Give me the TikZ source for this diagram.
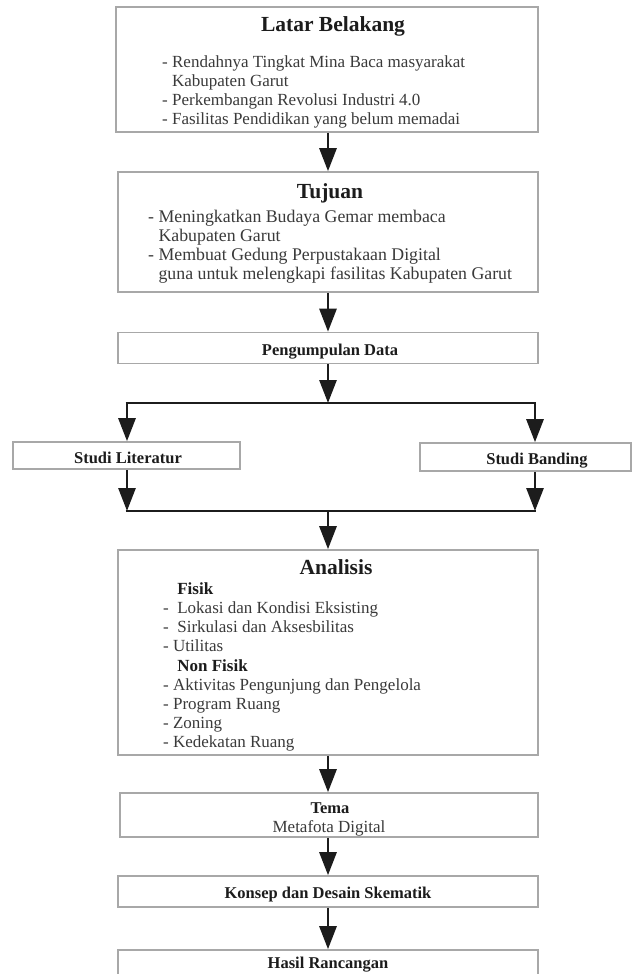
\documentclass[tikz,border=0pt]{standalone}
\usepackage{fontspec}
\setmainfont{Liberation Serif}
\usetikzlibrary{arrows.meta}
\definecolor{boxgray}{HTML}{A8A8A8}
\definecolor{ink}{HTML}{1C1C1C}
\definecolor{bodyink}{HTML}{3A3A3A}
\tikzset{
  box/.style={draw=boxgray, line width=1.6pt, fill=white, inner sep=0pt},
  arr/.style={draw=ink, line width=2.8pt, -{Triangle[length=23pt,width=17pt]}},
  link/.style={draw=ink, line width=2.8pt},
  ttl/.style={font=\fontsize{21.5}{24}\selectfont\bfseries, text=ink, inner sep=0pt, anchor=base},
  lbl/.style={font=\fontsize{16.5}{19}\selectfont\bfseries, text=ink, inner sep=0pt, anchor=base},
  sub/.style={font=\fontsize{17}{19}\selectfont, text=bodyink, inner sep=0pt, anchor=base},
  body/.style={font=\fontsize{17}{19.2}\selectfont, text=bodyink, inner sep=0pt, align=left, anchor=north west},
  bodywide/.style={body, font=\fontsize{17.8}{19}\selectfont},
}
\begin{document}
\begin{tikzpicture}[x=1pt, y=-1pt]
\useasboundingbox (0,0) rectangle (632,974);
\fill[white] (0,0) rectangle (632,974);

% boxes
\node[box, minimum width=422pt, minimum height=125pt] (lb) at (327,69.5) {};
\node[box, minimum width=420pt, minimum height=120pt] (tj) at (328,232) {};
\node[box, minimum width=420pt, minimum height=31pt] (pd) at (328,348) {};
\node[box, minimum width=227pt, minimum height=27pt] (sl) at (126.5,455.5) {};
\node[box, minimum width=211pt, minimum height=28pt] (sb) at (525.5,457) {};
\node[box, minimum width=420pt, minimum height=205pt] (an) at (328,652.5) {};
\node[box, minimum width=418pt, minimum height=44pt] (tm) at (329,815) {};
\node[box, minimum width=420pt, minimum height=31pt] (ks) at (328,891.5) {};
\node[box, minimum width=420pt, minimum height=40pt] (hr) at (328,970) {};

% texts
\node[ttl] (lbt) at (333,32) {Latar Belakang};
\node[body] (lbx) at (162,53.6) {\strut- Rendahnya Tingkat Mina Baca masyarakat\\
\phantom{- }Kabupaten Garut\\
- Perkembangan Revolusi Industri 4.0\\
- Fasilitas Pendidikan yang belum memadai};

\node[ttl] (tjt) at (330,198) {Tujuan};
\node[bodywide] (tjx) at (148,208.7) {\strut- Meningkatkan Budaya Gemar membaca\\
\phantom{- }Kabupaten Garut\\
- Membuat Gedung Perpustakaan Digital\\
\phantom{- }guna untuk melengkapi fasilitas Kabupaten Garut};

\node[lbl] (pdt) at (330,355) {Pengumpulan Data};
\node[lbl] (slt) at (128,463) {Studi Literatur};
\node[lbl] (sbt) at (537,464) {Studi Banding};

\node[ttl] (ant) at (336,574) {Analisis};
\node[body] (anx) at (163,580.6) {\strut\phantom{-\ \ }\textcolor{ink}{\textbf{Fisik}}\\
-\ \ Lokasi dan Kondisi Eksisting\\
-\ \ Sirkulasi dan Aksesbilitas\\
- Utilitas\\
\phantom{-\ \ }\textcolor{ink}{\textbf{Non Fisik}}\\
- Aktivitas Pengunjung dan Pengelola\\
- Program Ruang\\
- Zoning\\
- Kedekatan Ruang};

\node[lbl] (tmt) at (330,813) {Tema};
\node[sub] (tms) at (329,832) {Metafota Digital};
\node[lbl] (kst) at (328,898) {Konsep dan Desain Skematik};
\node[lbl] (hrt) at (328,968) {Hasil Rancangan};

% split / join points
\coordinate (splitM) at (328,403);
\coordinate (splitL) at (127,403);
\coordinate (splitR) at (535,403);
\coordinate (joinM) at (328,511);
\coordinate (joinL) at (127,511);
\coordinate (joinR) at (535,511);

% connectors
\draw[arr] (lb.south -| tj.north) -- (tj.north);
\draw[arr] (tj.south) -- (pd.north);
\draw[arr] (pd.south) -- (splitM);
\draw[link] ([xshift=-1.4pt]splitL) -- ([xshift=1.4pt]splitR);
\draw[arr] ([yshift=-1.4pt]splitL) -- (splitL |- sl.north);
\draw[arr] ([yshift=-1.4pt]splitR) -- (splitR |- sb.north);
\draw[arr] (sl.south -| joinL) -- (joinL);
\draw[arr] (sb.south -| joinR) -- (joinR);
\draw[link] ([xshift=-1.4pt]joinL) -- ([xshift=1.4pt]joinR);
\draw[arr] (joinM) -- (an.north);
\draw[arr] (an.south) -- (tm.north -| an.south);
\draw[arr] (tm.south -| ks.north) -- (ks.north);
\draw[arr] (ks.south) -- (hr.north);
\end{tikzpicture}
\end{document}
